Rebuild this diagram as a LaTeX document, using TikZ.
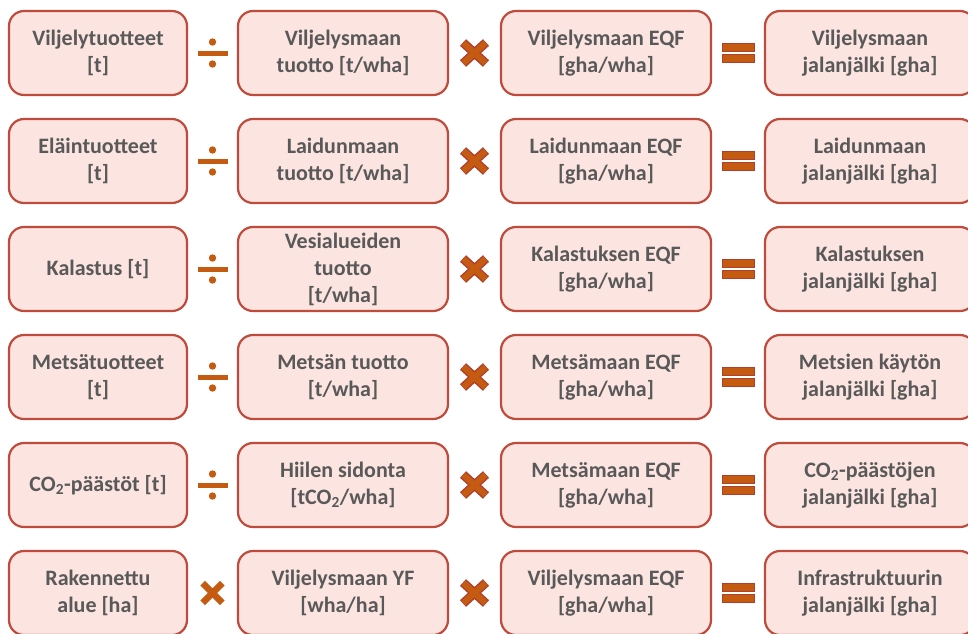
\documentclass[tikz,border=0pt]{standalone}
\usepackage{fontspec}
\setmainfont{Carlito}
\usetikzlibrary{calc}
\definecolor{boxfill}{HTML}{FCE4E0}
\definecolor{boxline}{HTML}{BE4B3C}
\definecolor{txt}{HTML}{595959}
\definecolor{opc}{HTML}{C55A11}
\definecolor{opline}{HTML}{B0402E}
\tikzset{
  term/.style={draw=boxline, fill=boxfill, line width=2.2pt, rounded corners=15pt,
    minimum width=210pt, minimum height=84pt, align=center, text=txt,
    font=\fontsize{22}{27}\selectfont\bfseries, inner sep=0pt},
  narrow/.style={term, minimum width=178pt},
  opdiv/.pic={
    \fill[opc] (-15,-2.5) rectangle (15,2.5);
    \fill[opc] (0,-11) circle (3.7pt);
    \fill[opc] (0,11) circle (3.7pt);
  },
  opmul/.pic={
    \draw[opline, line width=9pt] (-11.5,-10.5) -- (11.5,10.5) (-11.5,10.5) -- (11.5,-10.5);
    \draw[opc, line width=6pt] (-11.1,-10.1) -- (11.1,10.1) (-11.1,10.1) -- (11.1,-10.1);
  },
  opmulplain/.pic={
    \draw[opc, line width=6.5pt] (-9.8,-9.8) -- (9.8,9.8) (-9.8,9.8) -- (9.8,-9.8);
  },
  opeq/.pic={
    \draw[opline, fill=opc, line width=1pt] (-16,-9.5) rectangle (16,-1.5);
    \draw[opline, fill=opc, line width=1pt] (-16,1.5) rectangle (16,9.5);
  },
}
\begin{document}
\begin{tikzpicture}[x=1pt,y=-1pt]
\useasboundingbox (0,0) rectangle (968,633);
\clip (0,0) rectangle (968,633);
% Row 1
\node[narrow] (a1) at (98,53) {Viljelytuotteet\\{[t]}};
\node[term] (b1) at (343,53) {Viljelysmaan\\tuotto [t/wha]};
\node[term] (c1) at (606,53) {Viljelysmaan EQF\\{[gha/wha]}};
\node[term] (d1) at (870,53) {Viljelysmaan\\jalanjälki [gha]};
% Row 2
\node[narrow] (a2) at (98,161) {Eläintuotteet\\{[t]}};
\node[term] (b2) at (343,161) {Laidunmaan\\tuotto [t/wha]};
\node[term] (c2) at (606,161) {Laidunmaan EQF\\{[gha/wha]}};
\node[term] (d2) at (870,161) {Laidunmaan\\jalanjälki [gha]};
% Row 3
\node[narrow] (a3) at (98,269) {Kalastus [t]};
\node[term] (b3) at (343,269) {Vesialueiden\\tuotto\\{[t/wha]}};
\node[term] (c3) at (606,269) {Kalastuksen EQF\\{[gha/wha]}};
\node[term] (d3) at (870,269) {Kalastuksen\\jalanjälki [gha]};
% Row 4
\node[narrow] (a4) at (98,377) {Metsätuotteet\\{[t]}};
\node[term] (b4) at (343,377) {Metsän tuotto\\{[t/wha]}};
\node[term] (c4) at (606,377) {Metsämaan EQF\\{[gha/wha]}};
\node[term] (d4) at (870,377) {Metsien käytön\\jalanjälki [gha]};
% Row 5
\node[narrow] (a5) at (98,485) {CO\textsubscript{2}-päästöt [t]};
\node[term] (b5) at (343,485) {Hiilen sidonta\\{[tCO\textsubscript{2}/wha]}};
\node[term] (c5) at (606,485) {Metsämaan EQF\\{[gha/wha]}};
\node[term] (d5) at (870,485) {CO\textsubscript{2}-päästöjen\\jalanjälki [gha]};
% Row 6
\node[narrow] (a6) at (98,593) {Rakennettu\\alue [ha]};
\node[term] (b6) at (343,593) {Viljelysmaan YF\\{[wha/ha]}};
\node[term] (c6) at (606,593) {Viljelysmaan EQF\\{[gha/wha]}};
\node[term] (d6) at (870,593) {Infrastruktuurin\\jalanjälki [gha]};
% Operators
\foreach \r in {1,2,3,4,5}{
  \pic at ($(a\r.east)!0.5!(b\r.west)$) {opdiv};
}
\pic at ($(a6.east)!0.5!(b6.west)$) {opmulplain};
\foreach \r in {1,2,3,4,5,6}{
  \pic at ($(b\r.east)!0.5!(c\r.west)$) {opmul};
  \pic at ($(c\r.east)!0.5!(d\r.west)$) {opeq};
}
\end{tikzpicture}
\end{document}
